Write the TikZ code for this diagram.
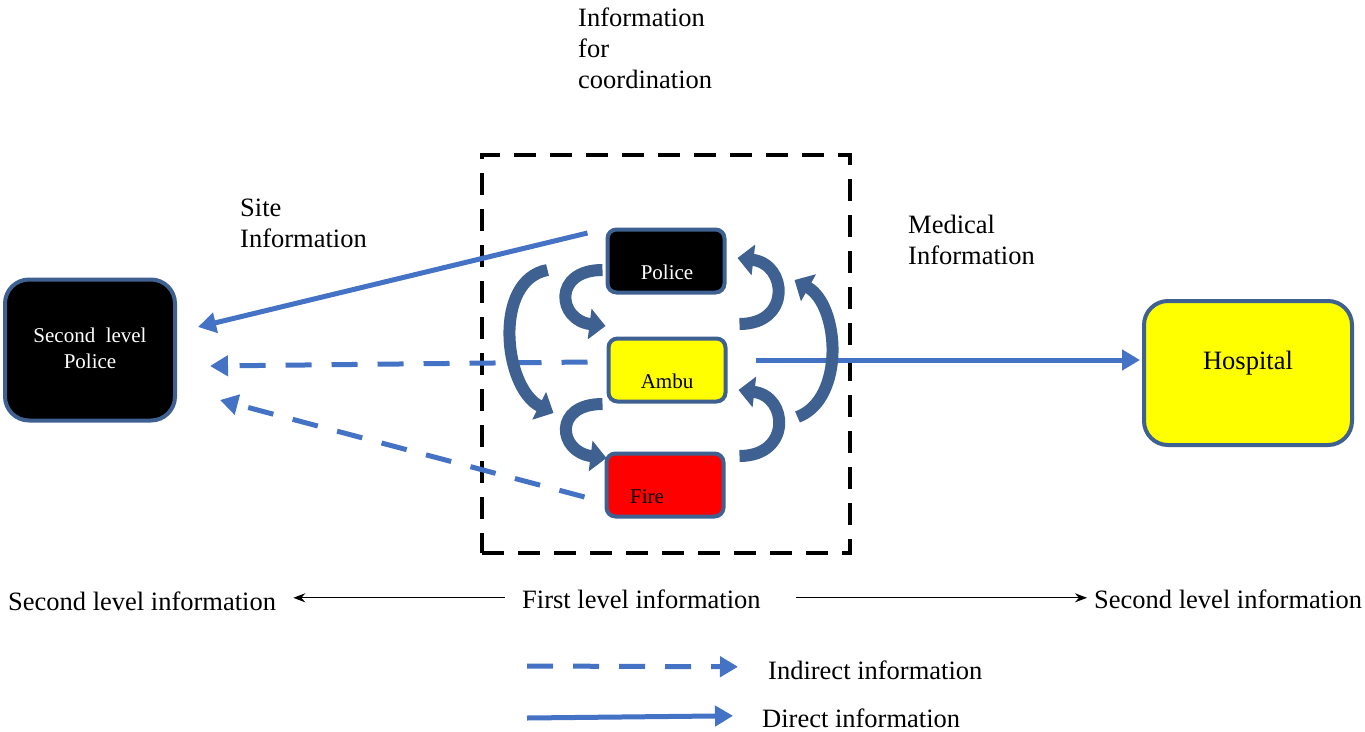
\documentclass[tikz,border=0pt]{standalone}
\usepackage{fontspec}
\setmainfont{Liberation Serif}
\usetikzlibrary{arrows.meta,calc}
\definecolor{lineblue}{HTML}{4472C4}
\definecolor{boxedge}{HTML}{3E6191}
\definecolor{boxyellow}{HTML}{FFFF00}
\definecolor{boxred}{HTML}{FF0000}
\tikzset{
 lbl/.style={font=\fontsize{26.5}{31}\selectfont, inner sep=0pt, align=left},
 boxtxt/.style={font=\fontsize{21}{26}\selectfont, inner sep=0pt},
 smallbox/.style={draw=boxedge, line width=4pt, rounded corners=9pt, minimum width=117pt, minimum height=63pt, inner sep=0pt},
 bigbox/.style={draw=boxedge, line width=4pt, rounded corners=24pt, inner sep=0pt},
 direct/.style={draw=lineblue, line width=5pt, -{Triangle[length=18pt,width=20pt]}},
 indirect/.style={direct, dash pattern=on 26pt off 20pt},
 curvearr/.style={draw=boxedge, line width=12pt, -{Triangle[length=16pt,width=30pt]}},
 levelarr/.style={draw=black, line width=1.3pt, -{Stealth[length=12pt,width=9pt]}},
 groupbox/.style={draw=black, line width=4pt, dash pattern=on 22pt off 14pt, inner sep=0pt}
}
\begin{document}
\begin{tikzpicture}[x=1pt,y=-1pt]
\useasboundingbox (0,0) rectangle (1365,731);
% group box
\node[groupbox, minimum width=368pt, minimum height=398pt] (grp) at (666,354) {};
% boxes
\node[smallbox, fill=black] (police) at (666,261) {};
\node[smallbox, fill=boxyellow] (ambu) at (667,370) {};
\node[smallbox, fill=boxred] (fire) at (665,485) {};
\node[bigbox, fill=black, minimum width=170pt, minimum height=141pt] (slp) at (90,350) {};
\node[bigbox, fill=boxyellow, minimum width=208pt, minimum height=144pt] (hosp) at (1248,373) {};
% box texts
\node[boxtxt, text=white, anchor=base] (policeT) at (667,279) {Police};
\node[boxtxt, anchor=base] (ambuT) at (667,388) {Ambu};
\node[boxtxt, anchor=base west] (fireT) at (630,503) {Fire};
\node[boxtxt, text=white, align=center, anchor=north] (slpT) at (90,328) {Second\ \ level\\Police};
\node[lbl, anchor=base] (hospT) at (1248,369) {Hospital};
% labels
\node[lbl, anchor=north west] (coord) at (578,8) {Information\\for\\coordination};
\node[lbl, anchor=north west] (site) at (240,199) {Site\\Information};
\node[lbl, anchor=north west] (med) at (908,215) {Medical\\Information};
% level labels
\node[lbl, anchor=base west] (secL) at (8,610) {Second level information};
\node[lbl, anchor=base west] (first) at (522,608) {First level information};
\node[lbl, anchor=base west] (secR) at (1094,608) {Second level information};
\draw[levelarr] ($(first.west)+(-17,-1)$) -- ($(secL.east)+(17,-3)$);
\draw[levelarr] ($(first.east)+(35,-1)$) -- ($(secR.west)+(-7,-1)$);
% legend
\node[lbl, anchor=base west] (indT) at (768,679) {Indirect information};
\node[lbl, anchor=base west] (dirT) at (762,727) {Direct information};
\coordinate (indS) at (527,666);
\coordinate (dirS) at (527,718);
\draw[indirect] (indS) -- ($(indT.west)+(-30,-3)$);
\draw[direct] (dirS) -- ($(dirT.west)+(-29,-2)$);
% information arrows
\draw[direct] ($(police.west)+(-18,-28)$) -- ($(slp.east)+(21,-23)$);
\draw[indirect] ($(ambu.west)+(-19,-8)$) -- ($(slp.east)+(33,16)$);
\draw[indirect] ($(fire.west)+(-20,12)$) -- ($(slp.east)+(43,50)$);
\draw[direct] ($(ambu.east)+(28,-10)$) -- ($(hosp.west)+(-2,-13)$);
% curved coordination arrows
\draw[curvearr] ($(police.west)+(-3,9)$) .. controls +(-50,0) and +(-48,-6) .. ($(ambu.west)+(-1,-44)$);
\draw[curvearr] ($(police.west)+(-58,9)$) .. controls +(-55,10) and +(-50,-25) .. ($(fire.west)+(-51,-72)$);
\draw[curvearr] ($(ambu.west)+(-4,34)$) .. controls +(-50,0) and +(-48,-6) .. ($(fire.west)+(2,-27)$);
\draw[curvearr] ($(ambu.east)+(12,-46)$) .. controls +(52,0) and +(50,6) .. ($(police.east)+(11,-3)$);
\draw[curvearr] ($(fire.east)+(72,-68)$) .. controls +(48,-18) and +(45,25) .. ($(police.east)+(68,19)$);
\draw[curvearr] ($(fire.east)+(14,-29)$) .. controls +(52,0) and +(50,6) .. ($(ambu.east)+(11,20)$);
\end{tikzpicture}
\end{document}
